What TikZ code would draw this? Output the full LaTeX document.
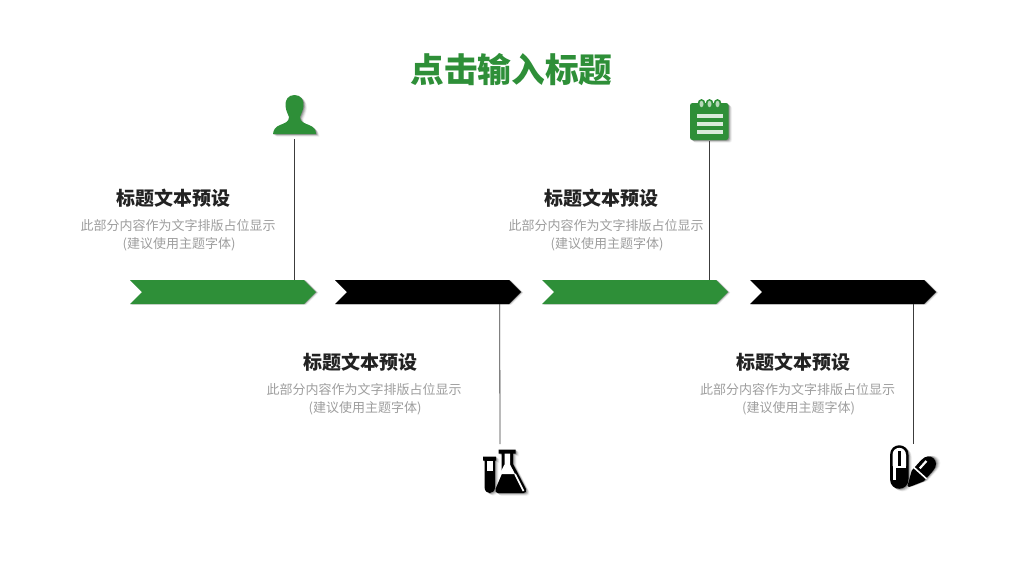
\documentclass[tikz,border=0pt]{standalone}
\usepackage{fontspec}
\setmainfont{Noto Sans CJK SC}
\definecolor{brandgreen}{RGB}{46,143,56}
\definecolor{headink}{RGB}{34,34,34}
\definecolor{bodyink}{RGB}{158,158,158}
\definecolor{lineink}{RGB}{60,60,60}
\newcommand{\softshadow}[1]{%
  \foreach \d/\o in {0.7/0.18,1.4/0.14,2.1/0.10,2.8/0.07,3.5/0.04}{%
    \fill[black,opacity=\o,shift={(\d,\d*0.8)}] #1;}}
\newcommand{\chevron}[2]{%
  \foreach \d/\o in {0.6/0.16,1.2/0.12,1.8/0.08,2.4/0.05}{%
    \fill[black,opacity=\o,shift={(\d,\d*0.3)}] (#1,280) -- ++(174,0) -- ++(12,12) -- ++(-12,12) -- ++(-174,0) -- ++(12,-12) -- cycle;}
  \fill[#2] (#1,280) -- ++(174,0) -- ++(12,12) -- ++(-12,12) -- ++(-174,0) -- ++(12,-12) -- cycle;}
\newcommand{\secondline}{\hspace{2pt}(建议使用主题字体)\hspace{2pt}}
\tikzset{
  titletext/.style={font=\bfseries\fontsize{33.7}{38}\selectfont,text=brandgreen,inner sep=0},
  headtext/.style={font=\bfseries\fontsize{19}{22}\selectfont,text=headink,inner sep=0},
  bodytext/.style={font=\fontsize{13}{18}\selectfont,text=bodyink,inner sep=0,align=center},
  stem/.style={draw=lineink,line width=0.8pt}
}
\begin{document}
\begin{tikzpicture}[x=1pt,y=-1pt]
\useasboundingbox (0,0) rectangle (1024,576);
\fill[white] (0,0) rectangle (1024,576);

\node[titletext] (title) at (511.5,70) {点击输入标题};

% chevrons
\chevron{130}{brandgreen}
\chevron{335}{black}
\chevron{542}{brandgreen}
\chevron{750}{black}
\coordinate (bar1) at (294.5,280);
\coordinate (bar2) at (499.7,304);
\coordinate (bar3) at (709.5,280);
\coordinate (bar4) at (913,304);

% person icon
\def\personpath{(294.5,95) .. controls (301,95) and (304,100) .. (303.5,106) .. controls (303,111) and (301,114) .. (300,117) .. controls (300,122) and (304,123) .. (309,125) .. controls (314,127) and (316,130) .. (316,134) -- (273,134) .. controls (273.5,130) and (275,127) .. (280,125) .. controls (285,123) and (289,122) .. (289,117) .. controls (288,114) and (286,111) .. (285.5,106) .. controls (285,100) and (288,95) .. (294.5,95) -- cycle}
\softshadow{\personpath}
\fill[brandgreen] \personpath;
\coordinate (icon1) at (294.5,139);

% notepad icon
\softshadow{[rounded corners=2.5pt] (690,103) rectangle (728.5,140)}
\fill[brandgreen,rounded corners=2.5pt] (690,103) rectangle (728.5,140);
\foreach \x in {701.5,709.5,717.5}{
  \fill[brandgreen] (\x,104) ellipse (4 and 5);
  \fill[white!65!brandgreen] (\x,104) ellipse (2 and 3.2);
}
\foreach \y in {116,124,132}{
  \fill[white!82!brandgreen] (696.5,\y-1.8) rectangle (722.5,\y+1.8);
}
\coordinate (icon3) at (709.5,141);

% flask icon
\def\flaskpath{(498.5,449.5) -- (515.5,449.5) -- (515.5,453.5) -- (513,453.5) -- (513,464) -- (526,489) .. controls (527,491.5) and (525.5,493) .. (523.5,493) -- (498,493) .. controls (496,493) and (494.5,491.5) .. (495.5,489) -- (501.5,475) -- (501.5,453.5) -- (498.5,453.5) -- cycle}
\def\tubepath{(483,456.5) -- (496,456.5) -- (496,460.5) -- (495,460.5) -- (495,487) .. controls (495,495) and (484.5,495) .. (484.5,487) -- (484.5,460.5) -- (483,460.5) -- cycle}
\softshadow{\flaskpath}
\softshadow{\tubepath}
\fill[black] \tubepath;
\fill[white] (487,460.5) -- (492.5,460.5) -- (492.5,471) -- (487,471) -- cycle;
\fill[black] \flaskpath;
\fill[white] (504.5,453.5) -- (510,453.5) -- (510,464.5) -- (515,474) -- (499.5,474) -- (504.5,464.5) -- cycle;
\draw[white,line width=1.6pt] (515,474) -- (523.5,491);
\coordinate (icon2) at (500,444);

% pills icon
\def\capsulepath{(890,455) .. controls (890,442) and (908.5,442) .. (908.5,455) -- (908.5,479) .. controls (908.5,492) and (890,492) .. (890,479) -- cycle}
\softshadow{\capsulepath}
\fill[black] \capsulepath;
\fill[white] (892.5,466) -- (892.5,455) .. controls (892.5,445.5) and (906,445.5) .. (906,455) -- (906,466) -- cycle;
\fill[black] (897.6,451) rectangle (900.9,484);
\fill[white] (892.5,466) rectangle (906,467.5);
\fill[white] (893.3,467) rectangle (896,480);
\begin{scope}[shift={(923,470)},rotate=48]
  \def\slantpill{(-22,-1) -- (-8,-8) -- (6,-8) .. controls (19,-8) and (19,8) .. (6,8) -- (-8,8) -- (-22,1) -- cycle}
  \softshadow{\slantpill}
  \fill[black] \slantpill;
  \fill[white] (-5,-8.5) rectangle (-3.4,8.5);
  \fill[white] (-1,-4.6) rectangle (9,-2.4);
\end{scope}
\coordinate (icon4) at (913,444);

% stems
\draw[stem] (icon1) -- (bar1);
\draw[stem] (icon3) -- (bar3);
\draw[stem] (bar2) -- (icon2);
\draw[stem] (bar4) -- (icon4);

% text blocks
\node[headtext] (h1) at (173,198) {标题文本预设};
\node[bodytext] (b1) at (178,235) {此部分内容作为文字排版占位显示\\\secondline};
\node[headtext] (h3) at (601,198) {标题文本预设};
\node[bodytext] (b3) at (606,235) {此部分内容作为文字排版占位显示\\\secondline};
\node[headtext] (h2) at (360,362) {标题文本预设};
\node[bodytext] (b2) at (364,399) {此部分内容作为文字排版占位显示\\\secondline};
\node[headtext] (h4) at (793,362) {标题文本预设};
\node[bodytext] (b4) at (797.5,399) {此部分内容作为文字排版占位显示\\\secondline};
\end{tikzpicture}
\end{document}
